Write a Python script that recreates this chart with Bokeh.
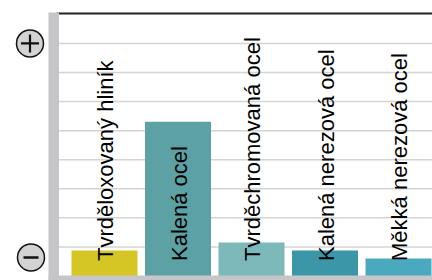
import math
from bokeh.plotting import figure
from bokeh.models import Range1d, ColumnDataSource
from bokeh.core.properties import value
from bokeh.embed import file_html
from bokeh.resources import INLINE

# ---- data ----
categories = ["Tvrděloxovaný hliník", "Kalená ocel", "Tvrděchromovaná ocel",
              "Kalená nerezová ocel", "Měkká nerezová ocel"]
values = [0.88, 5.31, 1.15, 0.88, 0.60]
colors = ["#D6C625", "#5CA2A5", "#7DB8BB", "#3B96A8", "#4BA9BF"]
grid_values = [1, 2, 3, 4, 5, 6, 7, 8]
top_value = 9.03
plus_value = 8.0
minus_value = 0.64

# ---- layout (pixel geometry -> data ranges) ----
W, H = 432, 280
px_x = 73.5            # pixels per category
x0_px = 104            # x of first bar centre
px_y = 29.07           # pixels per unit
y0_px = 275.5          # y (from top) of value 0

def dx(px):
    return (px - x0_px) / px_x

def dy(py):
    return (y0_px - py) / px_y

x_start, x_end = dx(0), dx(W)
y_start, y_end = dy(H), dy(0)

p = figure(width=W, height=H, output_backend="svg", toolbar_location=None,
           x_range=Range1d(x_start, x_end), y_range=Range1d(y_start, y_end),
           x_axis_location=None, y_axis_location=None,
           min_border=0, outline_line_color=None)
p.xgrid.visible = False
p.ygrid.visible = False
p.background_fill_color = "white"
p.border_fill_color = "white"

gray = "#C6C6C8"
plot_left = dx(58.5)
gray_left = dx(48)

# grid lines
p.segment(x0=[plot_left] * len(grid_values), x1=[x_end] * len(grid_values),
          y0=grid_values, y1=grid_values, line_color="#D4D4D4", line_width=1.5)
# top line
p.segment(x0=[dx(56)], x1=[x_end], y0=[top_value], y1=[top_value],
          line_color="#222222", line_width=2)

# bars
src = ColumnDataSource(dict(x=list(range(len(categories))), top=values,
                            color=colors, label=categories,
                            ly=[dy(260.5)] * len(categories)))
p.vbar(x="x", top="top", bottom=0, width=66 / px_x, fill_color="color",
       line_color=None, source=src)

# gray frame bars
p.quad(left=[gray_left], right=[plot_left], bottom=[y_start], top=[top_value + 1 / px_y],
       fill_color=gray, line_color=None)
p.quad(left=[gray_left], right=[x_end], bottom=[y_start], top=[dy(275)],
       fill_color=gray, line_color=None)

# labels
p.text(x="x", y="ly", text="label", source=src, angle=math.pi / 2,
       text_align="left", text_baseline="middle", x_offset=1,
       text_font=value("Liberation Sans"), text_font_size="22px",
       text_color="#000000")

# plus / minus symbols
p.scatter(x=[dx(29.5), dx(30.5)], y=[plus_value, minus_value], size=27,
          marker="circle", fill_color="#D3D3D3", line_color="#111111", line_width=1.5)
p.scatter(x=[dx(29.5)], y=[plus_value], size=18, marker="cross",
          line_color="#111111", line_width=2.2)
p.scatter(x=[dx(30.5)], y=[minus_value], size=15, marker="dash",
          line_color="#111111", line_width=2.5)

open("out.html", "w").write(file_html(p, INLINE))
